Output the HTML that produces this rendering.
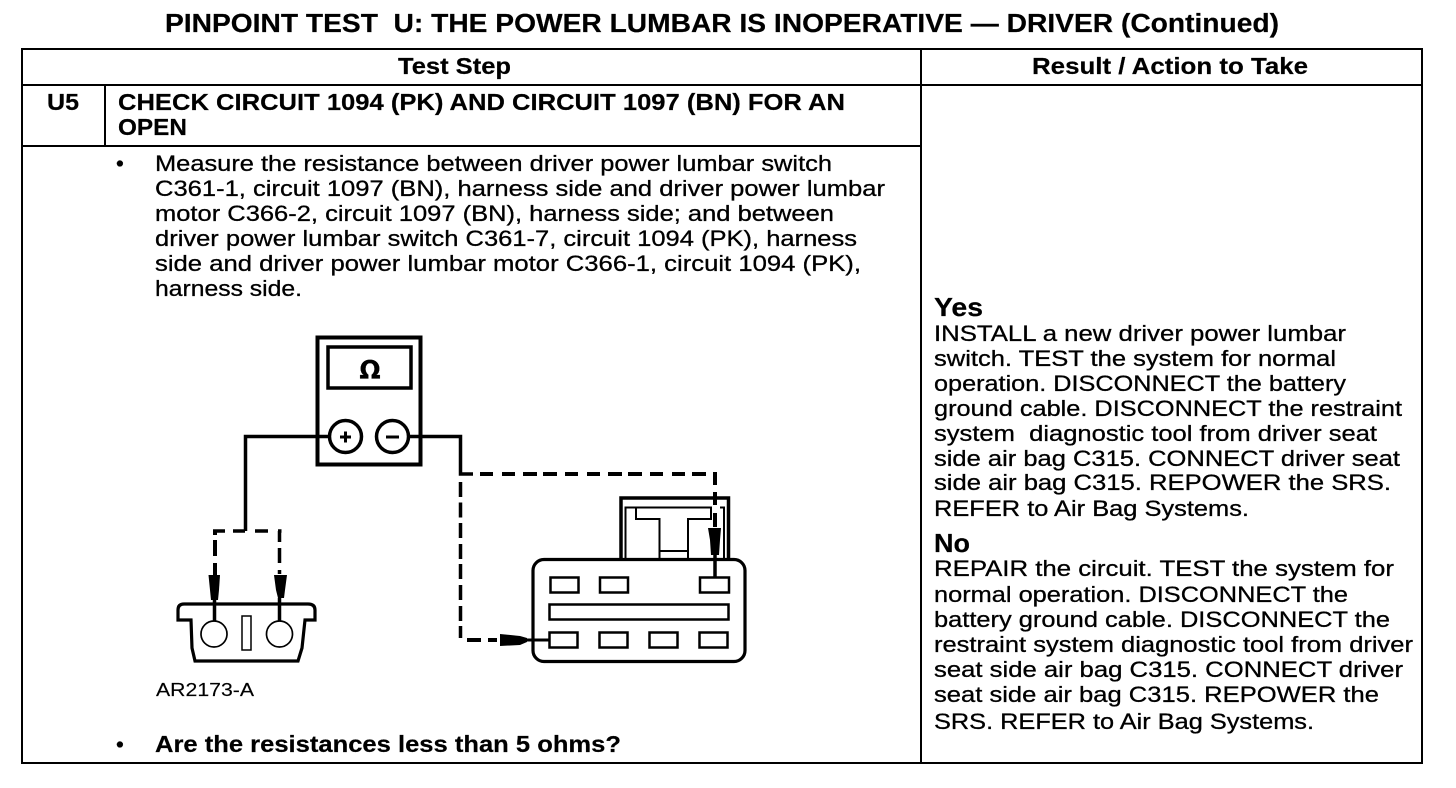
<!DOCTYPE html>
<html><head><meta charset="utf-8"><style>
html,body{margin:0;padding:0;background:#fff}
svg{display:block}
text{font-family:"Liberation Sans",sans-serif;fill:#000;font-size:22.3px;stroke:#000;stroke-width:.3px}
.b{font-weight:700;stroke-width:.2px}
.t{font-size:23.500px}
</style></head><body>
<svg width="1456" height="788" viewBox="0 0 1456 788" xmlns="http://www.w3.org/2000/svg">
<!-- table -->
<g fill="#000" shape-rendering="crispEdges">
<rect x="21" y="48" width="1402" height="2"/>
<rect x="21" y="84" width="1402" height="2"/>
<rect x="21" y="762" width="1402" height="2"/>
<rect x="21" y="48" width="2" height="716"/>
<rect x="1421" y="48" width="2" height="716"/>
<rect x="920" y="48" width="2" height="716"/>
<rect x="104" y="85" width="2" height="61"/>
<rect x="21" y="145" width="900" height="2"/>
</g>
<!-- headings -->
<text class="b t" x="165" y="32" textLength="1114" lengthAdjust="spacingAndGlyphs" style="font-size:25.500px">PINPOINT TEST&#160;&#160;U: THE POWER LUMBAR IS INOPERATIVE — DRIVER (Continued)</text>
<text class="b t" x="398" y="74" textLength="113" lengthAdjust="spacingAndGlyphs">Test Step</text>
<text class="b t" x="1032" y="74" textLength="276" lengthAdjust="spacingAndGlyphs">Result / Action to Take</text>
<text class="b t" x="47" y="110" textLength="32" lengthAdjust="spacingAndGlyphs">U5</text>
<text class="b t" x="118" y="110" textLength="727" lengthAdjust="spacingAndGlyphs">CHECK CIRCUIT 1094 (PK) AND CIRCUIT 1097 (BN) FOR AN</text>
<text class="b t" x="118" y="135" textLength="69" lengthAdjust="spacingAndGlyphs">OPEN</text>
<!-- body -->
<text x="116" y="171">•</text>
<text x="155" y="171" textLength="677" lengthAdjust="spacingAndGlyphs">Measure the resistance between driver power lumbar switch</text>
<text x="155" y="196" textLength="730" lengthAdjust="spacingAndGlyphs">C361-1, circuit 1097 (BN), harness side and driver power lumbar</text>
<text x="155" y="221" textLength="679" lengthAdjust="spacingAndGlyphs">motor C366-2, circuit 1097 (BN), harness side; and between</text>
<text x="155" y="246" textLength="702" lengthAdjust="spacingAndGlyphs">driver power lumbar switch C361-7, circuit 1094 (PK), harness</text>
<text x="155" y="271" textLength="706" lengthAdjust="spacingAndGlyphs">side and driver power lumbar motor C366-1, circuit 1094 (PK),</text>
<text x="155" y="296" textLength="147" lengthAdjust="spacingAndGlyphs">harness side.</text>
<text x="116" y="752">•</text>
<text class="b" style="font-size:23px" x="155" y="752" textLength="466" lengthAdjust="spacingAndGlyphs">Are the resistances less than 5 ohms?</text>
<!-- result column -->
<text class="b" style="font-size:26px" x="934" y="316" textLength="49" lengthAdjust="spacingAndGlyphs">Yes</text>
<text x="934" y="341" textLength="412" lengthAdjust="spacingAndGlyphs">INSTALL a new driver power lumbar</text>
<text x="934" y="366" textLength="402" lengthAdjust="spacingAndGlyphs">switch. TEST the system for normal</text>
<text x="934" y="391" textLength="412" lengthAdjust="spacingAndGlyphs">operation. DISCONNECT the battery</text>
<text x="934" y="416" textLength="468" lengthAdjust="spacingAndGlyphs">ground cable. DISCONNECT the restraint</text>
<text x="934" y="441" textLength="443" lengthAdjust="spacingAndGlyphs">system&#160;&#160;diagnostic tool from driver seat</text>
<text x="934" y="466" textLength="466" lengthAdjust="spacingAndGlyphs">side air bag C315. CONNECT driver seat</text>
<text x="934" y="490" textLength="457" lengthAdjust="spacingAndGlyphs">side air bag C315. REPOWER the SRS.</text>
<text x="934" y="516" textLength="315" lengthAdjust="spacingAndGlyphs">REFER to Air Bag Systems.</text>
<text class="b" style="font-size:26px" x="934" y="552" textLength="36" lengthAdjust="spacingAndGlyphs">No</text>
<text x="934" y="576" textLength="460" lengthAdjust="spacingAndGlyphs">REPAIR the circuit. TEST the system for</text>
<text x="934" y="602" textLength="414" lengthAdjust="spacingAndGlyphs">normal operation. DISCONNECT the</text>
<text x="934" y="627" textLength="456" lengthAdjust="spacingAndGlyphs">battery ground cable. DISCONNECT the</text>
<text x="934" y="652" textLength="479" lengthAdjust="spacingAndGlyphs">restraint system diagnostic tool from driver</text>
<text x="934" y="677" textLength="469" lengthAdjust="spacingAndGlyphs">seat side air bag C315. CONNECT driver</text>
<text x="934" y="702" textLength="445" lengthAdjust="spacingAndGlyphs">seat side air bag C315. REPOWER the</text>
<text x="934" y="729" textLength="380" lengthAdjust="spacingAndGlyphs">SRS. REFER to Air Bag Systems.</text>
<text x="156" y="696" textLength="98" lengthAdjust="spacingAndGlyphs" style="font-size:18.500px;stroke-width:.15px">AR2173-A</text>
<!-- meter -->
<rect x="317.500" y="337.500" width="103" height="127" fill="#fff" stroke="#000" stroke-width="4"/>
<rect x="328" y="347" width="83" height="41" fill="none" stroke="#000" stroke-width="3.500"/>
<text class="b" x="370" y="378" text-anchor="middle" style="font-size:25px;font-family:'DejaVu Sans',sans-serif">Ω</text>
<circle cx="345.500" cy="436.500" r="16" fill="#fff" stroke="#000" stroke-width="3.500"/>
<circle cx="392.500" cy="436.500" r="16" fill="#fff" stroke="#000" stroke-width="3.500"/>
<path d="M340 437h11M345.500 431.500v11M386 437h13" stroke="#000" stroke-width="3" fill="none"/>
<!-- wires -->
<path d="M328 436.500H245.500V531" fill="none" stroke="#000" stroke-width="3.500"/>
<path d="M409 436.500H460.500V474H473" fill="none" stroke="#000" stroke-width="3.500"/>
<!-- dashes -->
<g stroke="#000" stroke-width="3.500" fill="none">
<path d="M213 531H225M233 531H245M255 531H268M278 531H281.500"/>
<path d="M215 531V535M215 540V556M215 563V575" stroke-width="4"/>
<path d="M279.500 531V542M279.500 548V563M279.500 570V574" stroke-width="3.500"/>
<path d="M460.500 482V497M460.500 502.500V517.500M460.500 523V538M460.500 544V559M460.500 564V579M460.500 585V600M460.500 606V621M460.500 626V638"/>
<path d="M467 640H481M488 640H497" stroke-width="4"/>
<path d="M480 474H493M502 474H515M523 474H537M543 474H557M565 474H578M587 474H600M608 474H622M628 474H642M650 474H663M672 474H685M692 474H706" stroke-width="4"/>
</g>
<!-- left connector -->
<path d="M191 620H178V610Q178 604 184 604H308Q315 604 315 610V620H305L302 648L298 661H195L192 648Z" fill="#fff" stroke="#000" stroke-width="3.200"/>
<circle cx="214" cy="634" r="13" fill="#fff" stroke="#000" stroke-width="1.700"/>
<circle cx="279.500" cy="634" r="13" fill="#fff" stroke="#000" stroke-width="1.700"/>
<rect x="242" y="616" width="9" height="34" fill="#fff" stroke="#000" stroke-width="1.500"/>
<path d="M208.500 575H220L219 590L218 600H211L210 590Z" fill="#000"/>
<path d="M274 575H287L285 590L284 598H278L276 590Z" fill="#000"/>
<path d="M214.500 598V621M279.500 598V621" stroke="#000" stroke-width="3.500"/>
<!-- right connector -->
<path d="M621 559V498H728.500V559" fill="none" stroke="#000" stroke-width="3.500"/>
<path d="M625.500 559V507.500H724V559" fill="none" stroke="#000" stroke-width="2"/>
<path d="M636 508V519H659.500V559M711 508V519H688V559M659.500 551H688" fill="none" stroke="#000" stroke-width="2"/>
<rect x="712" y="506" width="8" height="22" fill="#fff"/>
<path d="M715 472V485M715 492V505M715 513V527" stroke="#000" stroke-width="4" fill="none"/>
<rect x="533" y="559.500" width="212" height="102" rx="11" fill="#fff" stroke="#000" stroke-width="3.200"/>
<g fill="#fff" stroke="#000" stroke-width="2.500">
<rect x="550.500" y="577.500" width="28" height="15"/>
<rect x="600" y="577.500" width="28" height="15"/>
<rect x="700" y="577.500" width="29" height="15"/>
<rect x="549.500" y="604.500" width="179" height="15"/>
<rect x="549.500" y="632.500" width="28" height="15"/>
<rect x="599.500" y="632.500" width="28" height="15"/>
<rect x="649.500" y="632.500" width="28" height="15"/>
<rect x="699.500" y="632.500" width="28" height="15"/>
</g>
<path d="M708 528H721L720 540L719 555H711L710 540Z" fill="#000"/>
<path d="M715 553V577" stroke="#000" stroke-width="3.500"/>
<path d="M500 634L520 636L527 638V642L520 645L500 646Z" fill="#000"/>
<path d="M527 640H549" stroke="#000" stroke-width="3"/>
</svg>
</body></html>
